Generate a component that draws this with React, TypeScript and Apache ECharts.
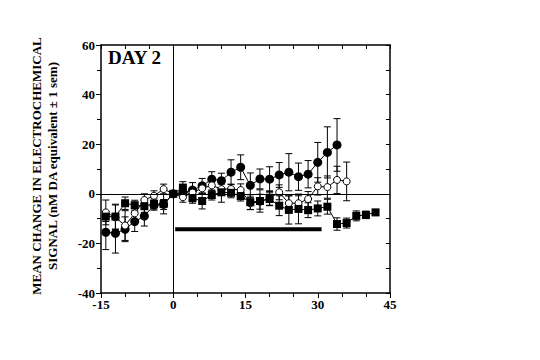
import React, { useEffect, useRef } from "react";
import * as echarts from "echarts";

const diamondT = [-14, -12, -10, -8, -6, -4, -2, 0, 2, 4, 6, 8, 10, 12, 14, 16, 18, 20, 22, 24, 26, 28, 30, 32, 34];
const diamondMean = [-15.5, -15.9, -14.3, -11.2, -9.0, -4.6, -4.3, 0, 0.5, 1.5, 3.2, 5.9, 5.3, 8.7, 10.7, 3.4, 6.0, 5.9, 7.6, 8.7, 6.9, 7.9, 12.7, 16.7, 19.7];
const diamondSem = [7, 8, 5, 4, 4, 2, 2, 0, 2, 3, 3, 3, 3, 5, 5, 5, 4, 5, 5, 7.5, 5.5, 5.5, 8, 10.3, 10.6];

const circleT = [-14, -12, -10, -8, -6, -4, -2, 0, 2, 4, 6, 8, 10, 12, 14, 16, 18, 20, 22, 24, 26, 28, 30, 32, 34, 36];
const circleMean = [-7.5, -9.5, -12.8, -7.9, -2.5, -0.8, 1.9, 0, -1.4, 0.5, 2.2, 3.4, 1.9, 1.9, 1.5, -3.8, -3.2, -1.8, 0.6, -3.8, -3.8, -2.1, 3.0, 2.7, 5.6, 5.0];
const circleSem = [5, 5, 6, 3, 2.5, 2, 2, 0, 2, 2, 2, 2, 2, 2, 2.5, 2.5, 3, 3, 3, 3, 3, 3, 3.5, 4.5, 5.5, 7.8];

const squareT = [-14, -12, -10, -8, -6, -4, -2, 0, 2, 4, 6, 8, 10, 12, 14, 16, 18, 20, 22, 24, 26, 28, 30, 32, 34, 36, 38, 40, 42];
const squareMean = [-9.2, -9.2, -3.8, -4.6, -5.0, -4.1, -4.1, 0, 2.5, -1.8, -2.9, -0.5, 0.6, 0.4, -0.9, -3.4, -2.9, -2.1, -4.8, -6.5, -6.1, -6.6, -5.9, -5.2, -12.2, -11.8, -8.9, -8.5, -7.5];
const squareSem = [2, 5, 2.5, 2, 2.5, 2, 4, 0, 2.4, 2, 3.2, 2, 4, 2, 2, 3, 4.5, 2.5, 4, 5.7, 6, 3, 3, 3, 2.5, 2, 2, 1.5, 1.2];

const barX = [0.4, 30.8];
const barY = -14.3;

const xTicks = { min: -15, max: 45, interval: 15 };
const yTicks = { min: -40, max: 60, interval: 20 };

const panelLabel = "DAY 2";
const yTitle = "MEAN CHANGE IN ELECTROCHEMICAL\nSIGNAL (nM DA equivalent \u00b1 1 sem)";

const FONT = '"Liberation Serif", "DejaVu Serif", serif';

function errSeries(t: number[], m: number[], s: number[]) {
  return {
    type: "custom",
    z: 2,
    silent: true,
    data: t.map((x, i) => [x, m[i] - s[i], m[i] + s[i]]),
    renderItem: (params: any, api: any) => {
      const x = api.value(0);
      const lo = api.coord([x, api.value(1)]);
      const hi = api.coord([x, api.value(2)]);
      const w = 3.5;
      const st = { stroke: "#000", lineWidth: 1 };
      return {
        type: "group",
        children: [
          { type: "line", shape: { x1: lo[0], y1: lo[1], x2: hi[0], y2: hi[1] }, style: st },
          { type: "line", shape: { x1: lo[0] - w, y1: lo[1], x2: lo[0] + w, y2: lo[1] }, style: st },
          { type: "line", shape: { x1: hi[0] - w, y1: hi[1], x2: hi[0] + w, y2: hi[1] }, style: st },
        ],
      };
    },
  };
}

export default function App() {
  const ref = useRef<HTMLDivElement>(null);
  useEffect(() => {
    document.body.style.margin = "0";
    const chart = echarts.init(ref.current!, null, { renderer: "svg" });
    const axisLine = { show: true, onZero: false, lineStyle: { color: "#000", width: 1.5 } };
    const label = { color: "#000", fontFamily: FONT, fontWeight: "bold", fontSize: 13 };
    chart.setOption({
      animation: false,
      backgroundColor: "#fff",
      grid: { left: 101, right: 150, top: 45, bottom: 67, containLabel: false },
      xAxis: [
        {
          type: "value", position: "bottom", ...xTicks,
          axisLine, splitLine: { show: false },
          axisTick: { show: true, inside: false, length: 5, lineStyle: { color: "#000", width: 1 } },
          minorTick: { show: true, splitNumber: 3, length: 4, lineStyle: { color: "#000", width: 1 } },
          axisLabel: { ...label, margin: 5 },
        },
        {
          type: "value", position: "top", ...xTicks,
          axisLine, splitLine: { show: false },
          axisTick: { show: true, inside: true, length: 4, lineStyle: { color: "#000", width: 1 } },
          minorTick: { show: true, splitNumber: 3, length: 4, lineStyle: { color: "#000", width: 1 } },
          axisLabel: { show: false },
        },
      ],
      yAxis: [
        {
          type: "value", position: "left", ...yTicks,
          axisLine, splitLine: { show: false },
          axisTick: { show: true, inside: false, length: 5, lineStyle: { color: "#000", width: 1 } },
          minorTick: { show: true, splitNumber: 2, length: 4, lineStyle: { color: "#000", width: 1 } },
          axisLabel: { ...label, margin: 6 },
        },
        {
          type: "value", position: "right", ...yTicks,
          axisLine, splitLine: { show: false },
          axisTick: { show: true, inside: true, length: 4, lineStyle: { color: "#000", width: 1 } },
          minorTick: { show: true, splitNumber: 2, length: 4, lineStyle: { color: "#000", width: 1 } },
          axisLabel: { show: false },
        },
      ],
      graphic: [
        {
          type: "text", left: 108, top: 48,
          style: { text: panelLabel, font: `bold 19px ${FONT}`, fill: "#000" },
        },
        {
          type: "text", x: 44, y: 166, rotation: Math.PI / 2,
          style: {
            text: yTitle, font: `bold 13px ${FONT}`, fill: "#000",
            align: "center", verticalAlign: "middle", lineHeight: 16,
          },
        },
      ],
      series: [
        {
          type: "line", data: [], silent: true,
          markLine: {
            symbol: "none", silent: true, label: { show: false },
            lineStyle: { color: "#000", width: 1, type: "solid" },
            data: [{ xAxis: 0 }, { yAxis: 0 }],
          },
        },
        {
          type: "line", silent: true, symbol: "none", z: 1,
          data: barX.map((x) => [x, barY]),
          lineStyle: { color: "#000", width: 4 },
        },
        errSeries(diamondT, diamondMean, diamondSem),
        errSeries(circleT, circleMean, circleSem),
        errSeries(squareT, squareMean, squareSem),
        {
          type: "line", z: 3,
          data: diamondT.map((x, i) => [x, diamondMean[i]]),
          symbol: "circle", symbolSize: 9,
          itemStyle: { color: "#000" },
          lineStyle: { color: "#000", width: 1 },
        },
        {
          type: "line", z: 4,
          data: circleT.map((x, i) => [x, circleMean[i]]),
          symbol: "circle", symbolSize: 7,
          itemStyle: { color: "#fff", borderColor: "#000", borderWidth: 1 },
          lineStyle: { color: "#000", width: 1 },
        },
        {
          type: "line", z: 5,
          data: squareT.map((x, i) => [x, squareMean[i]]),
          symbol: "rect", symbolSize: 8,
          itemStyle: { color: "#000" },
          lineStyle: { color: "#000", width: 1 },
        },
      ],
    });
    return () => chart.dispose();
  }, []);
  return <div ref={ref} style={{ width: 540, height: 360 }} />;
}
